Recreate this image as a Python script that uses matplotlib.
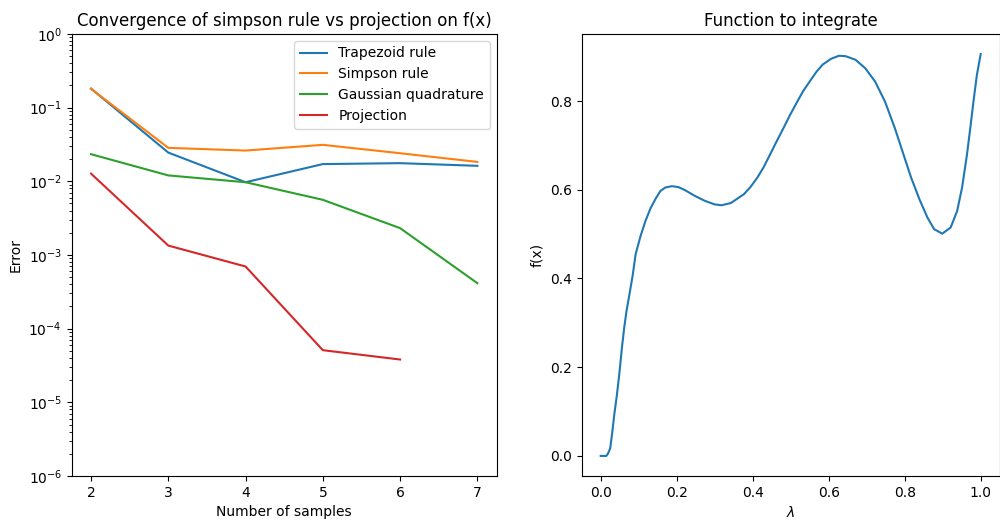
import matplotlib
matplotlib.use("Agg")
import matplotlib.pyplot as plt

samples = [2, 3, 4, 5, 6, 7]
trapezoid = [0.181, 0.0245, 0.0097, 0.0171, 0.0176, 0.0162]
simpson = [0.180, 0.0284, 0.0261, 0.0312, 0.0240, 0.0183]
gauss = [0.0233, 0.0120, 0.0097, 0.0056, 0.00231, 0.000414]
proj_samples = [2, 3, 4, 5, 6]
projection = [0.0127, 0.00134, 0.000697, 5.1e-5, 3.81e-5]

fx_x = [0.0, 0.0147, 0.019, 0.025, 0.030, 0.036, 0.042, 0.049, 0.056, 0.062,
        0.068, 0.075, 0.084, 0.092, 0.105, 0.118, 0.131, 0.144, 0.157, 0.170,
        0.187, 0.2045, 0.222, 0.248, 0.274, 0.2995, 0.318, 0.3425, 0.377, 0.394,
        0.412, 0.429, 0.446, 0.463, 0.481, 0.498, 0.515, 0.5325, 0.550, 0.567,
        0.584, 0.606, 0.627, 0.6446, 0.6705, 0.696, 0.722, 0.748, 0.774, 0.7955,
        0.817, 0.839, 0.860, 0.8776, 0.899, 0.921, 0.938, 0.951, 0.964, 0.9726,
        0.981, 0.990, 1.0]
fx_y = [0.0, 0.0, 0.005, 0.017, 0.050, 0.095, 0.133, 0.185, 0.245, 0.290,
        0.327, 0.361, 0.406, 0.455, 0.496, 0.530, 0.558, 0.579, 0.597, 0.605,
        0.608, 0.606, 0.599, 0.586, 0.575, 0.567, 0.565, 0.570, 0.590, 0.606,
        0.627, 0.651, 0.680, 0.709, 0.739, 0.768, 0.795, 0.822, 0.844, 0.865,
        0.882, 0.895, 0.902, 0.901, 0.893, 0.874, 0.844, 0.799, 0.739, 0.683,
        0.627, 0.578, 0.537, 0.511, 0.501, 0.515, 0.552, 0.605, 0.680, 0.739,
        0.799, 0.859, 0.906]

fig = plt.figure(figsize=(10, 5.22), dpi=100)
ax1 = fig.add_axes([0.0717, 0.0881, 0.425, 0.847])
ax2 = fig.add_axes([0.5817, 0.0881, 0.418, 0.847])

ax1.plot(samples, trapezoid, label="Trapezoid rule")
ax1.plot(samples, simpson, label="Simpson rule")
ax1.plot(samples, gauss, label="Gaussian quadrature")
ax1.plot(proj_samples, projection, label="Projection")
ax1.set_yscale("log")
ax1.set_ylim(1e-6, 1e0)
ax1.set_xlabel("Number of samples")
ax1.set_ylabel("Error")
ax1.set_title("Convergence of simpson rule vs projection on f(x)")
ax1.legend(loc="upper right")

ax2.plot(fx_x, fx_y)
ax2.set_xlabel(r"$\lambda$")
ax2.set_ylabel("f(x)")
ax2.set_title("Function to integrate")

fig.savefig("out.png", dpi=100)
